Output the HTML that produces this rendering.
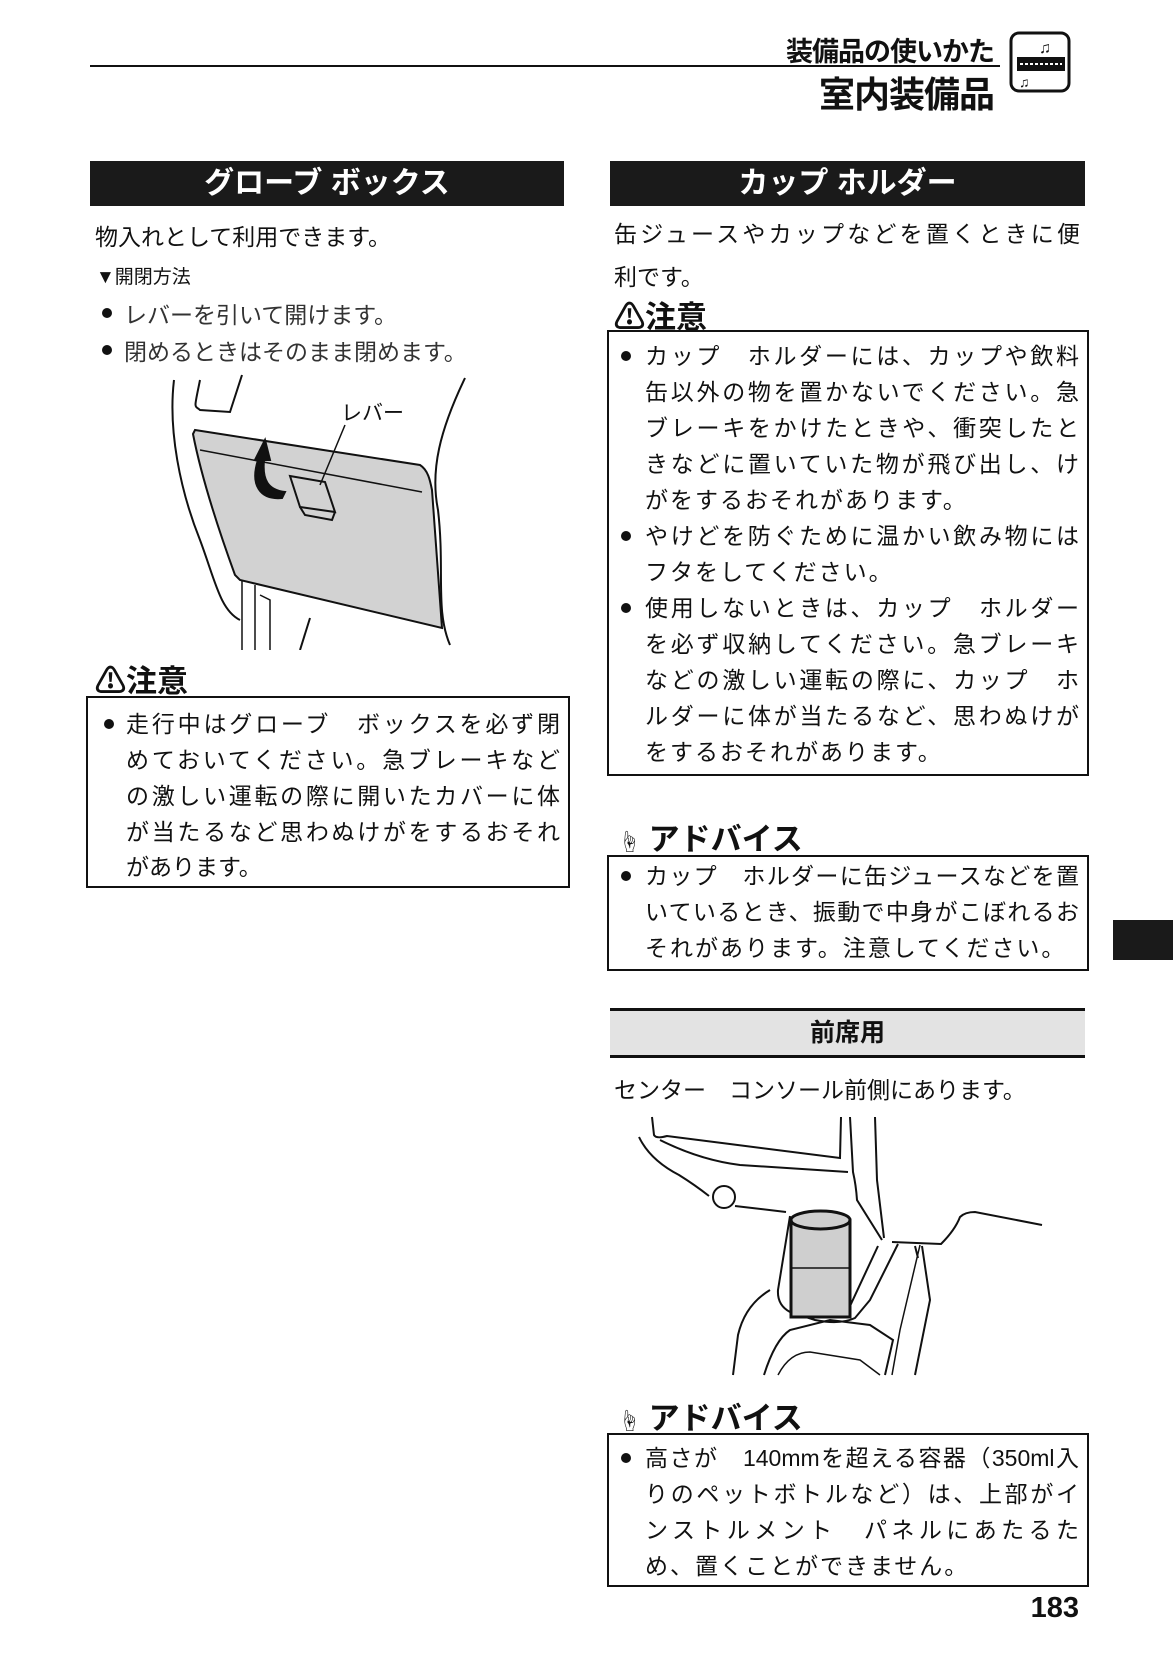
<!DOCTYPE html>
<html><head><meta charset="utf-8">
<style>
html,body{margin:0;padding:0;background:#fff;}
body{width:1173px;height:1654px;position:relative;overflow:hidden;font-family:"Liberation Sans","Noto Sans CJK JP",sans-serif;color:#111;}
.a{position:absolute;white-space:nowrap;}
.bar{position:absolute;background:#1a1a1a;color:#fff;font-weight:bold;font-size:30px;text-align:center;line-height:45px;height:45px;}
.ln{position:absolute;font-size:23px;line-height:30px;height:30px;text-align:justify;text-align-last:justify;white-space:nowrap;}
.box{position:absolute;border:2px solid #111;}
.dot{position:absolute;width:10px;height:10px;border-radius:50%;background:#111;}
.h{position:absolute;font-weight:bold;font-size:31px;white-space:nowrap;}
</style></head><body>

<div class="a" style="right:179px;top:30px;font-size:27px;font-weight:bold;letter-spacing:-1px;">装備品の使いかた</div>
<div style="position:absolute;left:90px;top:65px;width:910px;height:1.5px;background:#111;"></div>
<div class="a" style="right:179px;top:66px;font-size:36px;font-weight:bold;letter-spacing:-1px;">室内装備品</div>
<svg class="a" style="left:1009px;top:31px" width="64" height="64" viewBox="0 0 64 64">
<rect x="2" y="2" width="58" height="58" rx="8" fill="none" stroke="#111" stroke-width="3"/>
<rect x="8" y="26" width="48" height="14" fill="#111"/>
<line x1="11" y1="33" x2="53" y2="33" stroke="#fff" stroke-width="2" stroke-dasharray="3 2"/>
<text x="30" y="22" font-size="16" fill="#111">♫</text><text x="10" y="56" font-size="14" fill="#111">♫</text>
</svg>

<!-- left column -->
<div class="bar" style="left:90px;top:161px;width:474px;">グローブ ボックス</div>
<div class="a" style="left:95px;top:218px;font-size:23px;">物入れとして利用できます。</div>
<div class="a" style="left:96px;top:262px;font-size:19px;">▼開閉方法</div>
<div class="dot" style="left:102px;top:308px"></div>
<div class="a" style="left:124px;top:296px;font-size:23px;color:#333;">レバーを引いて開けます。</div>
<div class="dot" style="left:102px;top:345px"></div>
<div class="a" style="left:124px;top:333px;font-size:23px;color:#333;">閉めるときはそのまま閉めます。</div>

<svg class="a" style="left:160px;top:370px" width="320" height="280" viewBox="0 0 320 280" fill="none" stroke="#111" stroke-width="2">
<path d="M14 10 C8 60 20 120 40 170 C55 210 60 240 80 250"/>
<path d="M40 10 C34 40 34 35 40 40 L70 42 L82 5"/>
<path d="M305 8 C280 60 270 100 278 140 C285 200 275 240 290 275"/>
<path d="M33 64 L35 60 L260 95 C268 100 270 110 272 120 L282 258 L80 210 L75 205 C55 150 40 100 33 64 Z" fill="#d2d2d2"/>
<line x1="40" y1="80" x2="262" y2="122" stroke-width="1.5"/>
<path d="M130 106 L165 112 L175 142 L140 137 Z" stroke-width="2"/>
<path d="M140 137 L145 145 L172 150 L175 142"/>
<line x1="160" y1="115" x2="185" y2="55" stroke-width="1.5"/>
<path d="M95 90 L105 70 L110 90 L104 90 C102 110 108 120 125 122 L122 128 C100 130 90 115 98 90 Z" fill="#111"/>
<path d="M82 210 L82 280 M95 215 L95 280 M100 225 L110 230 L110 280" stroke-width="1.5"/>
<path d="M150 248 L140 280"/>
</svg>
<div class="a" style="left:341px;top:397px;font-size:21px;">レバー</div>

<div class="h" style="left:95px;top:656px;">⚠注意</div>
<div class="box" style="left:86px;top:696px;width:480px;height:188px;"></div>
<div class="dot" style="left:104px;top:719px"></div>
<div class="ln" style="left:126px;top:709px;width:434px;">走行中はグローブ　ボックスを必ず閉</div>
<div class="ln" style="left:126px;top:745px;width:434px;">めておいてください。急ブレーキなど</div>
<div class="ln" style="left:126px;top:781px;width:434px;">の激しい運転の際に開いたカバーに体</div>
<div class="ln" style="left:126px;top:817px;width:434px;">が当たるなど思わぬけがをするおそれ</div>
<div class="ln" style="left:126px;top:852px;width:434px;text-align-last:left;">があります。</div>

<!-- right column -->
<div class="bar" style="left:610px;top:161px;width:475px;">カップ ホルダー</div>
<div class="ln" style="left:614px;top:219px;width:466px;">缶ジュースやカップなどを置くときに便</div>
<div class="a" style="left:614px;top:258px;font-size:23px;">利です。</div>
<div class="h" style="left:614px;top:292px;">⚠注意</div>
<div class="box" style="left:607px;top:330px;width:478px;height:442px;"></div>
<div class="dot" style="left:621px;top:351px"></div>
<div class="ln" style="left:645px;top:341px;width:434px;">カップ　ホルダーには、カップや飲料</div>
<div class="ln" style="left:645px;top:377px;width:434px;">缶以外の物を置かないでください。急</div>
<div class="ln" style="left:645px;top:413px;width:434px;">ブレーキをかけたときや、衝突したと</div>
<div class="ln" style="left:645px;top:449px;width:434px;">きなどに置いていた物が飛び出し、け</div>
<div class="ln" style="left:645px;top:485px;width:434px;text-align-last:left;letter-spacing:2px;">がをするおそれがあります。</div>
<div class="dot" style="left:621px;top:531px"></div>
<div class="ln" style="left:645px;top:521px;width:434px;">やけどを防ぐために温かい飲み物には</div>
<div class="ln" style="left:645px;top:557px;width:434px;text-align-last:left;letter-spacing:2px;">フタをしてください。</div>
<div class="dot" style="left:621px;top:603px"></div>
<div class="ln" style="left:645px;top:593px;width:434px;">使用しないときは、カップ　ホルダー</div>
<div class="ln" style="left:645px;top:629px;width:434px;">を必ず収納してください。急ブレーキ</div>
<div class="ln" style="left:645px;top:665px;width:434px;">などの激しい運転の際に、カップ　ホ</div>
<div class="ln" style="left:645px;top:701px;width:434px;">ルダーに体が当たるなど、思わぬけが</div>
<div class="ln" style="left:645px;top:737px;width:434px;text-align-last:left;letter-spacing:2px;">をするおそれがあります。</div>

<div class="h" style="left:618px;top:814px;"><span style="font-size:22px;font-weight:normal;">☝</span> アドバイス</div>
<div class="box" style="left:607px;top:855px;width:478px;height:112px;"></div>
<div class="dot" style="left:621px;top:871px"></div>
<div class="ln" style="left:645px;top:861px;width:434px;">カップ　ホルダーに缶ジュースなどを置</div>
<div class="ln" style="left:645px;top:897px;width:434px;">いているとき、振動で中身がこぼれるお</div>
<div class="ln" style="left:645px;top:933px;width:434px;text-align-last:left;letter-spacing:2px;">それがあります。注意してください。</div>

<div style="position:absolute;left:1113px;top:920px;width:60px;height:40px;background:#1a1a1a;"></div>

<div style="position:absolute;left:610px;top:1008px;width:475px;height:44px;background:#e3e3e3;border-top:3px solid #111;border-bottom:3px solid #111;text-align:center;font-weight:bold;font-size:25px;line-height:44px;">前席用</div>
<div class="a" style="left:614px;top:1071px;font-size:23px;">センター　コンソール前側にあります。</div>

<svg class="a" style="left:580px;top:1000px" width="593" height="654" viewBox="580 1000 593 654" fill="none" stroke="#111" stroke-width="2">
<path d="M652 1117 L654 1135 Q656 1139 667 1136 L840 1158 L841 1117"/>
<path d="M639 1137 Q650 1160 679 1175 Q695 1185 709 1196"/>
<path d="M660 1140 Q700 1160 740 1165 L848 1172"/>
<path d="M850 1117 L853 1172 Q856 1185 857 1200 L882 1240"/>
<path d="M875 1117 L877 1180 L884 1238"/>
<path d="M892 1242 L941 1244 Q955 1230 960 1217 Q965 1212 975 1212 L1042 1225"/>
<circle cx="724" cy="1197" r="11" fill="#fff"/>
<path d="M735 1206 L786 1212"/>
<path d="M790 1216 L778 1290 Q777 1305 790 1312 L815 1320 Q840 1325 855 1318 L870 1300 L898 1244"/>
<path d="M800 1240 L795 1290 Q800 1305 820 1308 L850 1306 L878 1246"/>
<rect x="791" y="1220" width="59" height="97" fill="#cfcfcf" stroke-width="3"/>
<ellipse cx="820.5" cy="1220" rx="29.5" ry="9" fill="#cfcfcf" stroke-width="3"/>
<path d="M791 1268 L850 1268" stroke-width="1.5"/>
<path d="M922 1246 L930 1300 L915 1375"/>
<path d="M915 1246 L918 1258"/>
<path d="M764 1375 Q775 1340 790 1330 L830 1320 L870 1325 L893 1340 L885 1375"/>
<path d="M733 1375 L738 1335 Q745 1305 770 1290"/>
<path d="M778 1375 Q790 1352 810 1352 L860 1360 L880 1375" stroke-width="1.5"/>
<path d="M920 1245 L900 1330 L892 1375" stroke-width="1.5"/>
</svg>

<div class="h" style="left:618px;top:1393px;"><span style="font-size:22px;font-weight:normal;">☝</span> アドバイス</div>
<div class="box" style="left:607px;top:1433px;width:478px;height:150px;"></div>
<div class="dot" style="left:621px;top:1453px"></div>
<div class="ln" style="left:645px;top:1443px;width:434px;">高さが　140mmを超える容器（350ml入</div>
<div class="ln" style="left:645px;top:1479px;width:434px;">りのペットボトルなど）は、上部がイ</div>
<div class="ln" style="left:645px;top:1515px;width:434px;">ンストルメント　パネルにあたるた</div>
<div class="ln" style="left:645px;top:1551px;width:434px;text-align-last:left;letter-spacing:2px;">め、置くことができません。</div>

<div class="a" style="right:94px;top:1592px;font-size:29px;font-weight:bold;">183</div>
</body></html>
